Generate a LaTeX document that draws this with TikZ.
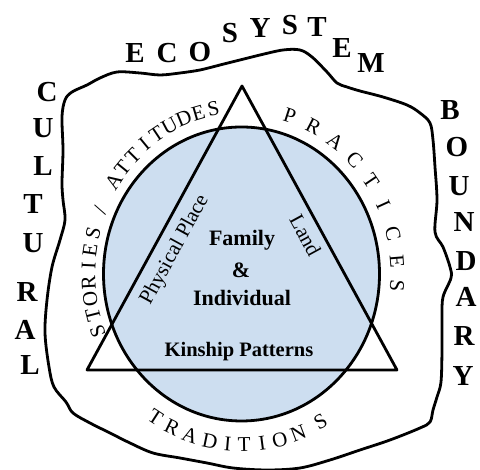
\documentclass[tikz,border=0pt]{standalone}
\usepackage{fontspec}
\setmainfont{Liberation Serif}
\definecolor{discblue}{RGB}{205,222,240}
\tikzset{
  outline/.style={line width=2.8pt, line join=round},
  bigletter/.style={font=\bfseries\fontsize{29}{30}\selectfont, inner sep=0pt},
  midtext/.style={font=\bfseries\fontsize{22}{23}\selectfont, inner sep=0pt},
  sidetext/.style={font=\fontsize{21}{22}\selectfont, inner sep=0pt},
  arcletter/.style={font=\fontsize{21}{22}\selectfont, inner sep=0pt}
}

\begin{document}
\begin{tikzpicture}[x=1pt, y=1pt]
		%%%%% START %%%%%
		\useasboundingbox (0, 0) rectangle (480, 470);
		\coordinate (ctr) at (241.5, 196);
		
		\fill[discblue] (ctr) ellipse[x radius=138, y radius=147];
		
		\coordinate (apex) at (242, 384);
		\coordinate (baseL) at (87, 100);
		\coordinate (baseR) at (397, 100);
		\draw[outline] (apex) -- (baseR) -- (baseL) -- cycle;
		\draw[outline] (ctr) ellipse[x radius=138, y radius=147];
		
		\draw[outline] plot[smooth cycle, tension=0.55] coordinates {
			(62,353) (65,370) (72,378) (87,385) (100,392) (117,398) (140,397) (160,395)
			(180,397) (200,400) (220,405) (240,410) (260,415) (283,420) (300,420) (312,413)
			(327,398) (337,387) (347,383) (360,379) (383,373) (407,365) (420,357) (430,347)
			(433,330) (435,303) (437,270) (435,238) (443,223) (450,203) (451,192) (443,173)
			(442,153) (442,120) (441,88) (437,73) (433,60) (430,48) (420,42) (390,30)
			(360,20) (330,10) (300,2) (267,0) (233,2) (207,7) (180,12) (153,17)
			(130,27) (110,37) (90,47) (73,57) (66,68) (54,83) (49,103) (45,137)
			(47,170) (52,203) (60,230) (65,250) (63,270) (62,287) (63,320)};
		
		% inner labels
		\node[midtext] (family) at (242, 230) {Family};
		\node[midtext] (amp) at (241, 200) {\&};
		\node[midtext] (indiv) at (242, 172) {Individual};
		\node[midtext, font=\bfseries\fontsize{20.5}{21}\selectfont] (kinship) at (239, 118) {Kinship Patterns};
		\node[sidetext, rotate=61.4] (place) at (175, 220) {Physical Place};
		\node[sidetext, rotate=-61.4] (land) at (305.5, 234.5) {Land};
		
		% labels round the disc, one letter at a time
		\foreach \ch/\ang [count=\k] in {S/200, T/194.3, O/188.7, R/183, I/177.3, E/171.7, S/166, {/}/157.5,
			A/146.7, T/141, T/135.2, I/129.4, T/123.7, U/118, D/112.2, E/106.4, S/100.6}
			\path (ctr) ++(\ang:153 and 168) node[arcletter, rotate=\ang-90] (story\k) {\ch};
		\foreach \ch/\ang [count=\k] in {P/72, R/62.5, A/53, C/43.5, T/34, I/24.5, C/14, E/4.5, S/-4}
			\path (ctr) ++(\ang:156 and 166) node[arcletter, rotate=\ang-90] (prac\k) {\ch};
		\foreach \ch/\ang [count=\k] in {T/237, R/244, A/251, D/258.5, I/265, T/271, I/277.5, O/284, N/291, S/300}
			\path (ctr) ++(\ang:158 and 171) node[arcletter, rotate=\ang+90] (trad\k) {\ch};
		
		% ECOSYSTEM
		\node[bigletter] (eco1) at (135, 417) {E};
		\node[bigletter] (eco2) at (167, 417) {C};
		\node[bigletter] (eco3) at (200, 418) {O};
		\node[bigletter] (eco4) at (230, 437) {S};
		\node[bigletter] (eco5) at (260, 442) {Y};
		\node[bigletter] (eco6) at (290, 445) {S};
		\node[bigletter] (eco7) at (317, 443) {T};
		\node[bigletter] (eco8) at (342, 422) {E};
		\node[bigletter] (eco9) at (371, 407) {M};
		
		% CULTURAL
		\node[bigletter] (cul1) at (47, 378) {C};
		\node[bigletter] (cul2) at (43, 342) {U};
		\node[bigletter] (cul3) at (43, 304) {L};
		\node[bigletter] (cul4) at (33, 266) {T};
		\node[bigletter] (cul5) at (33, 227) {U};
		\node[bigletter] (cul6) at (27, 178) {R};
		\node[bigletter] (cul7) at (25, 140) {A};
		\node[bigletter] (cul8) at (30, 105) {L};
		
		% BOUNDARY
		\node[bigletter] (bnd1) at (450, 360) {B};
		\node[bigletter] (bnd2) at (457, 323) {O};
		\node[bigletter] (bnd3) at (459, 284) {U};
		\node[bigletter] (bnd4) at (464, 248) {N};
		\node[bigletter] (bnd5) at (466, 209) {D};
		\node[bigletter] (bnd6) at (466, 173) {A};
		\node[bigletter] (bnd7) at (464, 134) {R};
		\node[bigletter] (bnd8) at (463, 94) {Y};
		%%%%% END %%%%%
\end{tikzpicture}
\end{document}
